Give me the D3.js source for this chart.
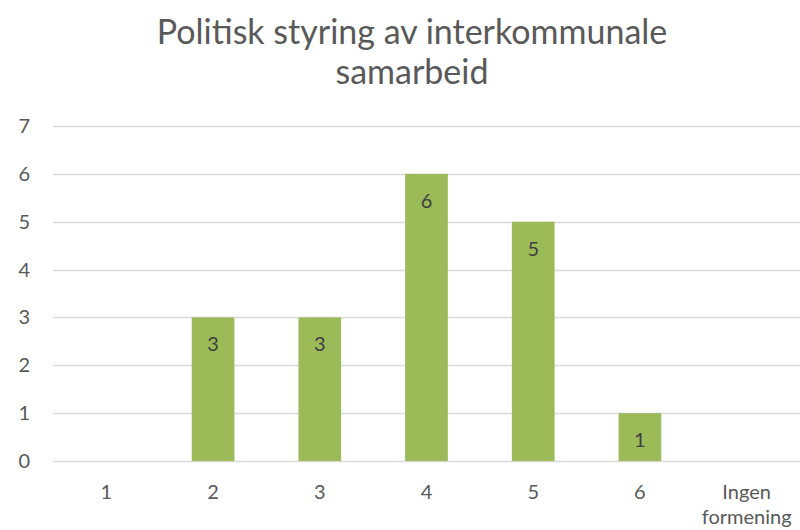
<!DOCTYPE html>
<html><head><meta charset="utf-8">
<script src="https://cdn.jsdelivr.net/npm/d3@7"></script>
<style>body{margin:0;background:#fff}svg{display:block}text{font-family:Lato,"Open Sans",sans-serif;fill:#595959}</style>
</head><body>
<svg id="c" width="800" height="530"></svg>
<script>
const categories = ["1","2","3","4","5","6","Ingen formening"];
const values = [0,3,3,6,5,1,0];
const yTicks = [0,1,2,3,4,5,6,7];
const titleLines = ["Politisk styring av interkommunale","samarbeid"];

const svg = d3.select("#c");
const W = 800, H = 530;
const m = {left:53, right:0, top:126, bottom:69};
const x = d3.scaleBand().domain(categories).range([m.left, W - m.right]).paddingInner(0.6).paddingOuter(0.3);
const y = d3.scaleLinear().domain([0,7]).range([H - m.bottom, m.top]);

// title
svg.append("g").selectAll("text").data(titleLines).join("text")
  .attr("x", 412).attr("y", (d,i)=>44 + i*40)
  .attr("text-anchor","middle").style("font-size","34px").text(d=>d);

// gridlines
svg.append("g").selectAll("line").data(yTicks).join("line")
  .attr("x1", m.left).attr("x2", W - m.right)
  .attr("y1", d=>Math.round(y(d))+0.5).attr("y2", d=>Math.round(y(d))+0.5)
  .attr("stroke","#d9d9d9").attr("stroke-width",1.5);

// y labels
svg.append("g").selectAll("text").data(yTicks).join("text")
  .attr("x", 30).attr("y", d=>y(d)).attr("dy","0.35em")
  .attr("text-anchor","end").style("font-size","20px").text(d=>d);

// bars
svg.append("g").selectAll("rect").data(values.map((v,i)=>({c:categories[i],v}))).join("rect")
  .attr("x", d=>x(d.c)).attr("width", x.bandwidth())
  .attr("y", d=>y(d.v)).attr("height", d=>y(0)-y(d.v))
  .attr("fill","#9bbb59");

// data labels
svg.append("g").selectAll("text").data(values.map((v,i)=>({c:categories[i],v})).filter(d=>d.v>0)).join("text")
  .attr("x", d=>x(d.c)+x.bandwidth()/2).attr("y", d=>y(d.v)+34)
  .attr("text-anchor","middle").style("font-size","20px").style("fill","#404040").text(d=>d.v);

// x labels
const xl = svg.append("g").selectAll("text").data(categories).join("text")
  .attr("x", d=>x(d)+x.bandwidth()/2).attr("y", 499)
  .attr("text-anchor","middle").style("font-size","20px");
xl.each(function(d){
  const words = d.split(" ");
  const t = d3.select(this);
  words.forEach((w,i)=>t.append("tspan").attr("x", x(d)+x.bandwidth()/2).attr("dy", i? "1.25em":0).text(w));
});
</script>
</body></html>
